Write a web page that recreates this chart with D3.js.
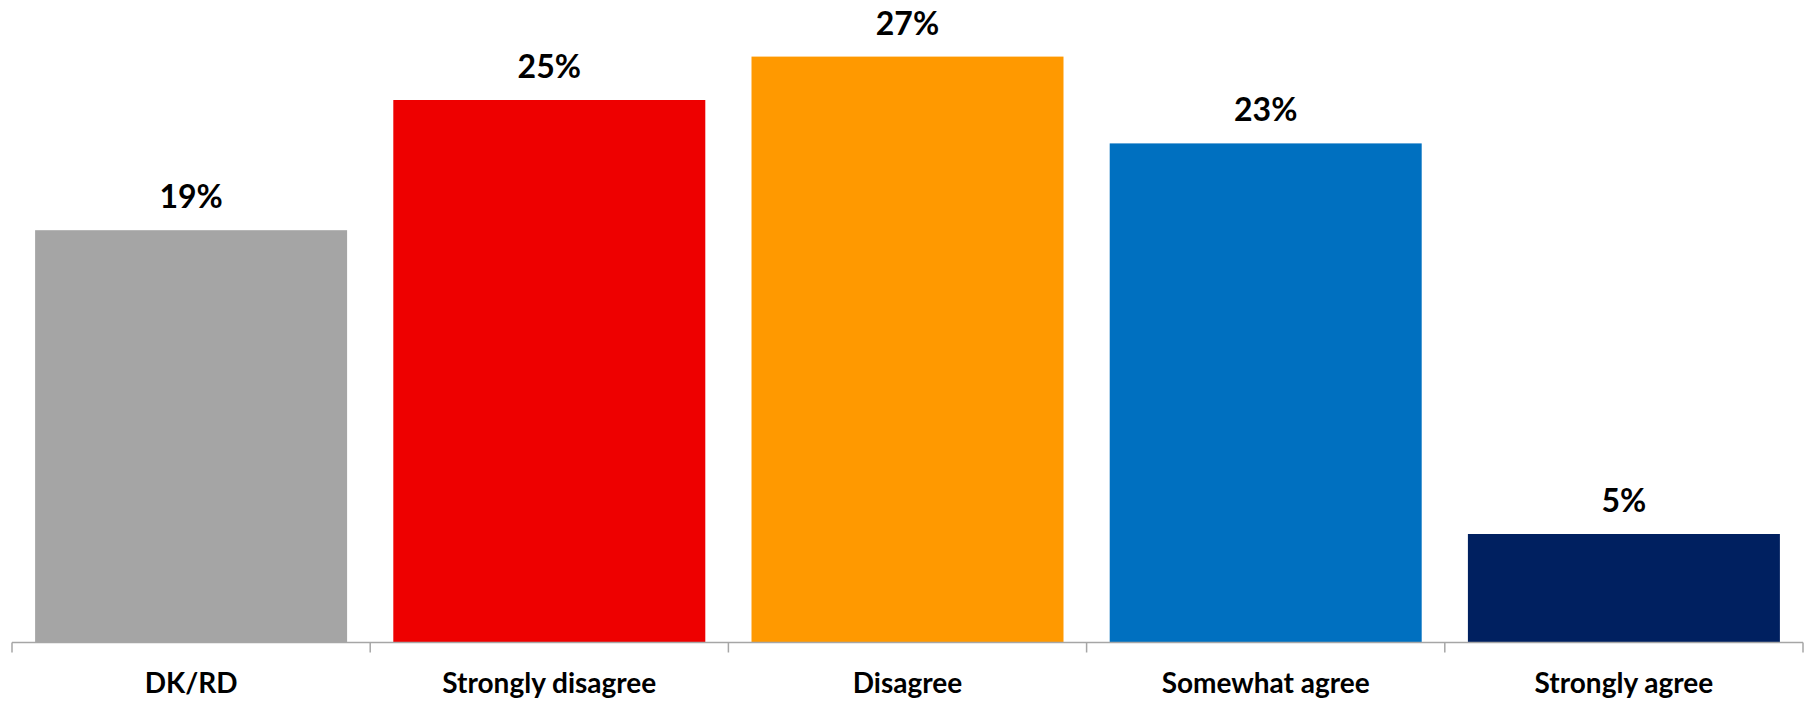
<!DOCTYPE html>
<html>
<head>
<meta charset="utf-8">
<script src="https://cdn.jsdelivr.net/npm/d3@7"></script>
<style>
  html, body { margin: 0; padding: 0; background: #fff; }
  svg { display: block; }
  text { font-family: Lato, "Open Sans", sans-serif; font-weight: bold; fill: #000; }
</style>
</head>
<body>
<svg id="chart" width="1812" height="701"></svg>
<script>
const categories = ["DK/RD", "Strongly disagree", "Disagree", "Somewhat agree", "Strongly agree"];
const values = [19, 25, 27, 23, 5];
const valueLabels = ["19%", "25%", "27%", "23%", "5%"];
const colors = ["#A5A5A5", "#EE0000", "#FF9900", "#0070C0", "#002060"];

const svg = d3.select("#chart");
const x0 = 12, x1 = 1803, baseY = 642.5;
const pad = 0.129;

const x = d3.scaleBand().domain(categories).range([x0, x1])
  .paddingInner(pad).paddingOuter(pad / 2);
const y = d3.scaleLinear().domain([0, 30]).range([baseY, baseY - 30 * 21.7]);

const data = categories.map((c, i) => ({ c, v: values[i], label: valueLabels[i], color: colors[i] }));

svg.selectAll("rect.bar").data(data).enter().append("rect")
  .attr("class", "bar")
  .attr("x", d => x(d.c))
  .attr("width", x.bandwidth())
  .attr("y", d => y(d.v))
  .attr("height", d => y(0) - y(d.v))
  .attr("fill", d => d.color);

// axis line
svg.append("line")
  .attr("x1", x0).attr("x2", x1)
  .attr("y1", baseY).attr("y2", baseY)
  .attr("stroke", "#A6A6A6").attr("stroke-width", 1.5);

// ticks at category boundaries
const step = x.step();
const bounds = categories.map(c => x(c) - step * pad / 2).concat([x1]);
svg.selectAll("line.tick").data(bounds).enter().append("line")
  .attr("class", "tick")
  .attr("x1", d => d).attr("x2", d => d)
  .attr("y1", baseY).attr("y2", baseY + 10)
  .attr("stroke", "#A6A6A6").attr("stroke-width", 1.5);

// value labels
svg.selectAll("text.val").data(data).enter().append("text")
  .attr("class", "val")
  .attr("x", d => x(d.c) + x.bandwidth() / 2)
  .attr("y", d => y(d.v) - 22)
  .attr("text-anchor", "middle")
  .style("font-size", "32px")
  .text(d => d.label);

// category labels
svg.selectAll("text.cat").data(data).enter().append("text")
  .attr("class", "cat")
  .attr("x", d => x(d.c) + x.bandwidth() / 2)
  .attr("y", 693)
  .attr("text-anchor", "middle")
  .style("font-size", "28px")
  .text(d => d.c);
</script>
</body>
</html>
